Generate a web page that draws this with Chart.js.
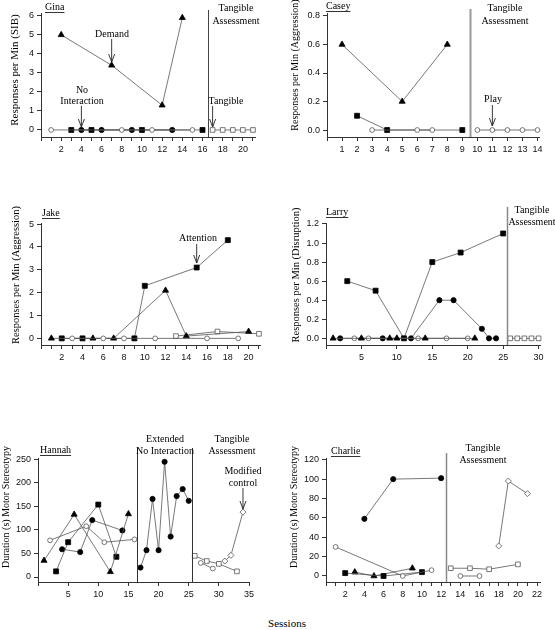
<!DOCTYPE html>
<html>
<head>
<meta charset="utf-8">
<script src="https://cdn.jsdelivr.net/npm/chart.js@4.4.1/dist/chart.umd.min.js"></script>
<style>
  body { margin: 0; background: #fff; }
  #wrap { position: relative; width: 555px; height: 630px; overflow: hidden; }
  canvas { position: absolute; }
  #sessions { position: absolute; left: 237px; width: 100px; top: 617px; text-align: center;
              font: 11px 'Liberation Serif', 'Times New Roman', serif; color: #000; }
</style>
</head>
<body>
<div id="wrap">
  <canvas id="gina"></canvas>
  <canvas id="casey"></canvas>
  <canvas id="jake"></canvas>
  <canvas id="larry"></canvas>
  <canvas id="hannah"></canvas>
  <canvas id="charlie"></canvas>
  <div id="sessions">Sessions</div>
</div>
<script>
// ---- data: sessions / values per condition ----
// Gina (SIB, responses per min)
const ginaAttnS = [3, 5, 10, 16],        ginaAttnV = [0, 0, 0, 0];
const ginaDemandS = [2, 7, 12, 14],      ginaDemandV = [5, 3.4, 1.3, 5.9];
const ginaNoIntS = [4, 6, 9, 13],        ginaNoIntV = [0, 0, 0, 0];
const ginaPlayS = [1, 8, 11, 15],        ginaPlayV = [0, 0, 0, 0];
const ginaTangS = [17, 18, 19, 20, 21],  ginaTangV = [0, 0, 0, 0, 0];

// Casey (aggression)
const caseyDemandS = [1, 5, 8],          caseyDemandV = [0.6, 0.2, 0.6];
const caseyAttnS = [2, 4, 9],            caseyAttnV = [0.1, 0, 0];
const caseyPlayS = [3, 6, 7],            caseyPlayV = [0, 0, 0];
const caseyTangS = [10, 11, 12, 13, 14], caseyTangV = [0, 0, 0, 0, 0];

// Jake (aggression)
const jakeAttnS = [2, 4, 9, 10, 15, 18],   jakeAttnV = [0, 0, 0, 2.3, 3.1, 4.3];
const jakeDemandS = [1, 5, 7, 12, 14, 20], jakeDemandV = [0, 0, 0, 2.1, 0.1, 0.3];
const jakePlayS = [3, 6, 8, 11, 16, 19],   jakePlayV = [0, 0, 0, 0, 0, 0];
const jakeTangS = [13, 17, 21],            jakeTangV = [0.1, 0.3, 0.2];

// Larry (disruption)
const larryAttnS = [3, 7, 11, 15, 19, 25],          larryAttnV = [0.6, 0.5, 0, 0.8, 0.9, 1.1];
const larryNoIntS = [2, 8, 12, 16, 18, 22, 23, 24], larryNoIntV = [0, 0, 0, 0.4, 0.4, 0.1, 0, 0];
const larryDemandS = [1, 5, 9, 10, 14, 21],         larryDemandV = [0, 0, 0, 0, 0, 0];
const larryPlayS = [4, 6, 13, 17, 20],              larryPlayV = [0, 0, 0, 0, 0];
const larryTangS = [26, 27, 28, 29, 30],            larryTangV = [0, 0, 0, 0, 0];

// Hannah (motor stereotypy, s)
const hannahDemandS = [1, 6, 12, 15],   hannahDemandV = [35, 133, 11, 134];
const hannahAttnS = [3, 5, 10, 13],     hannahAttnV = [12, 74, 154, 43];
const hannahNoIntS = [4, 7, 9, 14],     hannahNoIntV = [59, 53, 121, 99];
const hannahPlayS = [2, 8, 11, 16],     hannahPlayV = [78, 108, 74, 80];
const hannahExtS = [17, 18, 19, 20, 21, 22, 23, 24, 25];
const hannahExtV = [20, 57, 166, 57, 245, 86, 172, 187, 162];
const hannahTangS = [26, 28, 30, 33],   hannahTangV = [45, 34, 28, 12];
const hannahTPlayS = [27, 29],          hannahTPlayV = [30, 18];
const hannahModS = [31, 32, 34],        hannahModV = [34, 46, 138];

// Charlie (motor stereotypy, s)
const charlieNoIntS = [4, 7, 12],      charlieNoIntV = [59, 100, 101];
const charliePlayS = [1, 8, 11],       charliePlayV = [30, 0, 6];
const charlieAttnS = [2, 6, 10],       charlieAttnV = [3, 0, 4];
const charlieDemandS = [3, 5, 9],      charlieDemandV = [4, 0, 8];
const charlieTangS = [13, 15, 17, 20], charlieTangV = [8, 8, 7, 12];
const charlieTPlayS = [14, 16],        charlieTPlayV = [0, 0];
const charlieModS = [18, 19, 21],      charlieModV = [31, 98, 85];

// ---- styling helpers ----
const SERIF = "'Liberation Serif', 'Times New Roman', serif";
const SANS = "'Liberation Sans', Arial, sans-serif";
const AX = '#333';
const LINE = '#555';

const markers = {
  attn:   { style: 'rect',     r: 3.5, bg: '#000', bd: '#000' },
  demand: { style: 'triangle', r: 3.5, bg: '#000', bd: '#000' },
  noint:  { style: 'circle',   r: 2.6, bg: '#000', bd: '#000' },
  play:   { style: 'circle',   r: 2.4, bg: '#fff', bd: '#555' },
  tang:   { style: 'rect',     r: 3.3, bg: '#fff', bd: '#555' },
  mod:    { style: 'rectRot',  r: 3.0, bg: '#fff', bd: '#555' }
};

function series(s, v, kind) {
  const m = markers[kind];
  return {
    data: s.map((x, i) => ({ x: x, y: v[i] })),
    showLine: true,
    borderColor: LINE,
    borderWidth: 0.8,
    pointStyle: m.style,
    pointRadius: m.r,
    pointBackgroundColor: m.bg,
    pointBorderColor: m.bd,
    pointBorderWidth: 0.8,
    clip: false
  };
}

function drawArrow(ctx, x, y1, y2) {
  ctx.strokeStyle = '#222';
  ctx.lineWidth = 0.9;
  ctx.beginPath();
  ctx.moveTo(x, y1); ctx.lineTo(x, y2);
  ctx.moveTo(x - 3, y2 - 8); ctx.lineTo(x, y2); ctx.lineTo(x + 3, y2 - 8);
  ctx.stroke();
}

function drawAnnot(chart, a) {
  const ctx = chart.ctx, xs = chart.scales.x, ca = chart.chartArea;
  ctx.save();
  (a.phases || []).forEach(p => {
    const px = Math.round(xs.getPixelForValue(p.x)) + 0.5;
    ctx.strokeStyle = p.color; ctx.lineWidth = p.width;
    ctx.beginPath(); ctx.moveTo(px, p.top); ctx.lineTo(px, ca.bottom); ctx.stroke();
  });
  ctx.fillStyle = '#000';
  ctx.textBaseline = 'middle';
  (a.texts || []).forEach(t => {
    ctx.font = (t.size || 10) + 'px ' + SERIF;
    ctx.textAlign = t.align || 'center';
    ctx.fillText(t.text, t.x, t.y);
    if (t.underline) {
      const w = ctx.measureText(t.text).width;
      ctx.strokeStyle = '#000'; ctx.lineWidth = 0.8;
      ctx.beginPath(); ctx.moveTo(t.x, t.y + 5.5); ctx.lineTo(t.x + w, t.y + 5.5); ctx.stroke();
    }
  });
  (a.arrows || []).forEach(ar => drawArrow(ctx, xs.getPixelForValue(ar.x), ar.y1, ar.y2));
  const yt = a.yTitle;
  ctx.translate(yt.x, yt.y);
  ctx.rotate(-Math.PI / 2);
  ctx.font = (yt.size || 11) + 'px ' + SERIF;
  ctx.textAlign = 'center';
  ctx.fillText(yt.text, 0, 0);
  ctx.restore();
}

function panel(id, box, xc, yc, datasets, annot) {
  const cv = document.getElementById(id);
  cv.width = box.w; cv.height = box.h;
  cv.style.left = box.left + 'px'; cv.style.top = box.top + 'px';
  const tickFont = { family: SANS, size: 9 };
  new Chart(cv, {
    type: 'scatter',
    data: { datasets: datasets },
    options: {
      responsive: false,
      animation: false,
      events: [],
      layout: { padding: { top: box.pt, right: box.pr, left: 0, bottom: 0 } },
      plugins: { legend: { display: false }, tooltip: { enabled: false } },
      scales: {
        x: {
          type: 'linear', min: xc.min, max: xc.max,
          afterFit: s => { s.height = box.xh; },
          ticks: { stepSize: xc.step, autoSkip: false, maxRotation: 0, includeBounds: false,
                   callback: xc.label, font: tickFont, color: '#111', padding: 3 },
          grid: { drawOnChartArea: false, tickLength: 4, color: AX },
          border: { color: AX }
        },
        y: {
          type: 'linear', min: yc.min, max: yc.max,
          afterFit: s => { s.width = box.yw; },
          ticks: { stepSize: yc.step, includeBounds: false, callback: yc.label,
                   font: tickFont, color: '#111', padding: 3 },
          grid: { drawOnChartArea: false, tickLength: 4, color: AX },
          border: { color: AX }
        }
      }
    },
    plugins: [{ id: 'annot', afterDraw: chart => drawAnnot(chart, annot) }]
  });
}

const evenLabel = v => (v > 0 && v % 2 === 0) ? String(v) : '';
const posLabel = v => v > 0 ? String(v) : '';
const intLabel = v => v >= 0 ? String(v) : '';
const dec1Label = v => v >= 0 ? v.toFixed(1) : '';

// ---- Gina ----
panel('gina', { left: 0, top: 0, w: 278, h: 165, pt: 13, pr: 23, yw: 41, xh: 28 },
  { min: 0, max: 21.2, step: 1, label: evenLabel },
  { min: -0.37, max: 6.15, step: 1, label: intLabel },
  [
    series(ginaDemandS, ginaDemandV, 'demand'),
    series(ginaPlayS, ginaPlayV, 'play'),
    series(ginaAttnS, ginaAttnV, 'attn'),
    series(ginaNoIntS, ginaNoIntV, 'noint'),
    series(ginaTangS, ginaTangV, 'tang')
  ],
  {
    phases: [{ x: 16.5, top: 10, color: '#444', width: 1 }],
    texts: [
      { text: 'Gina', x: 45, y: 7, align: 'left', underline: true },
      { text: 'Tangible', x: 236, y: 8 },
      { text: 'Assessment', x: 236, y: 21 },
      { text: 'Demand', x: 112, y: 34 },
      { text: 'No', x: 82, y: 90 },
      { text: 'Interaction', x: 82, y: 101 },
      { text: 'Tangible', x: 226, y: 101 }
    ],
    arrows: [{ x: 7, y1: 39, y2: 62 }, { x: 4, y1: 106, y2: 127 }, { x: 17, y1: 106, y2: 127 }],
    yTitle: { text: 'Responses per Min (SIB)', x: 15, y: 70 }
  });

// ---- Casey ----
panel('casey', { left: 280, top: 0, w: 275, h: 165, pt: 13, pr: 16, yw: 47, xh: 28 },
  { min: 0, max: 14.1, step: 1, label: posLabel },
  { min: -0.049, max: 0.821, step: 0.2, label: dec1Label },
  [
    series(caseyDemandS, caseyDemandV, 'demand'),
    series(caseyPlayS, caseyPlayV, 'play'),
    series(caseyAttnS, caseyAttnV, 'attn'),
    series(caseyTangS, caseyTangV, 'play')
  ],
  {
    phases: [{ x: 9.5, top: 9, color: '#999', width: 2 }],
    texts: [
      { text: 'Casey', x: 46, y: 6, align: 'left', underline: true },
      { text: 'Tangible', x: 225, y: 8 },
      { text: 'Assessment', x: 225, y: 21 },
      { text: 'Play', x: 213, y: 99 }
    ],
    arrows: [{ x: 11, y1: 105, y2: 126 }],
    yTitle: { text: 'Responses per Min (Aggression)', x: 15, y: 65, size: 10 }
  });

// ---- Jake ----
panel('jake', { left: 0, top: 190, w: 278, h: 183, pt: 33, pr: 18, yw: 41, xh: 28 },
  { min: 0, max: 21.1, step: 1, label: evenLabel },
  { min: -0.29, max: 5.05, step: 1, label: intLabel },
  [
    series(jakePlayS, jakePlayV, 'play'),
    series(jakeDemandS, jakeDemandV, 'demand'),
    series(jakeAttnS, jakeAttnV, 'attn'),
    series(jakeTangS, jakeTangV, 'tang')
  ],
  {
    texts: [
      { text: 'Jake', x: 42, y: 23, align: 'left', underline: true },
      { text: 'Attention', x: 198, y: 48 }
    ],
    arrows: [{ x: 15, y1: 54, y2: 73 }],
    yTitle: { text: 'Responses per Min (Aggression)', x: 16, y: 85, size: 10.5 }
  });

// ---- Larry ----
panel('larry', { left: 280, top: 190, w: 275, h: 183, pt: 33, pr: 15, yw: 46, xh: 28 },
  { min: 0, max: 30.2, step: 5, label: posLabel },
  { min: -0.07, max: 1.21, step: 0.2, label: dec1Label },
  [
    series(larryDemandS, larryDemandV, 'demand'),
    series(larryPlayS, larryPlayV, 'play'),
    series(larryNoIntS, larryNoIntV, 'noint'),
    series(larryAttnS, larryAttnV, 'attn'),
    series(larryTangS, larryTangV, 'tang')
  ],
  {
    phases: [{ x: 25.5, top: 17, color: '#888', width: 1.5 }],
    texts: [
      { text: 'Larry', x: 46, y: 22, align: 'left', underline: true },
      { text: 'Tangible', x: 252, y: 20 },
      { text: 'Assessment', x: 252, y: 32 }
    ],
    yTitle: { text: 'Responses per Min (Disruption)', x: 16, y: 85, size: 10.5 }
  });

// ---- Hannah ----
panel('hannah', { left: 0, top: 420, w: 278, h: 185, pt: 38, pr: 29, yw: 38, xh: 23 },
  { min: 0, max: 35, step: 5, label: posLabel },
  { min: -10.6, max: 253, step: 50, label: intLabel },
  [
    series(hannahDemandS, hannahDemandV, 'demand'),
    series(hannahAttnS, hannahAttnV, 'attn'),
    series(hannahNoIntS, hannahNoIntV, 'noint'),
    series(hannahPlayS, hannahPlayV, 'play'),
    series(hannahExtS, hannahExtV, 'noint'),
    series(hannahTangS, hannahTangV, 'tang'),
    series(hannahTPlayS, hannahTPlayV, 'play'),
    series(hannahModS, hannahModV, 'mod')
  ],
  {
    phases: [{ x: 16.5, top: 28, color: '#333', width: 1 }, { x: 25.5, top: 28, color: '#333', width: 1 }],
    texts: [
      { text: 'Hannah', x: 40, y: 30, align: 'left', underline: true },
      { text: 'Extended', x: 165, y: 19 },
      { text: 'No Interaction', x: 165, y: 31 },
      { text: 'Tangible', x: 232, y: 19 },
      { text: 'Assessment', x: 232, y: 31 },
      { text: 'Modified', x: 243, y: 51 },
      { text: 'control', x: 243, y: 63 }
    ],
    arrows: [{ x: 34, y1: 68, y2: 89 }],
    yTitle: { text: 'Duration (s) Motor Stereotypy', x: 6, y: 87, size: 10 }
  });

// ---- Charlie ----
panel('charlie', { left: 280, top: 420, w: 275, h: 185, pt: 38, pr: 15, yw: 46, xh: 23 },
  { min: 0, max: 22.3, step: 1, label: evenLabel },
  { min: -6.2, max: 121.8, step: 20, label: intLabel },
  [
    series(charliePlayS, charliePlayV, 'play'),
    series(charlieAttnS, charlieAttnV, 'attn'),
    series(charlieDemandS, charlieDemandV, 'demand'),
    series(charlieNoIntS, charlieNoIntV, 'noint'),
    series(charlieTangS, charlieTangV, 'tang'),
    series(charlieTPlayS, charlieTPlayV, 'play'),
    series(charlieModS, charlieModV, 'mod')
  ],
  {
    phases: [{ x: 12.5, top: 33, color: '#888', width: 1.5 }],
    texts: [
      { text: 'Charlie', x: 51, y: 31, align: 'left', underline: true },
      { text: 'Tangible', x: 203, y: 28 },
      { text: 'Assessment', x: 203, y: 40 }
    ],
    yTitle: { text: 'Duration (s) Motor Stereotypy', x: 14, y: 87, size: 10 }
  });
</script>
</body>
</html>
